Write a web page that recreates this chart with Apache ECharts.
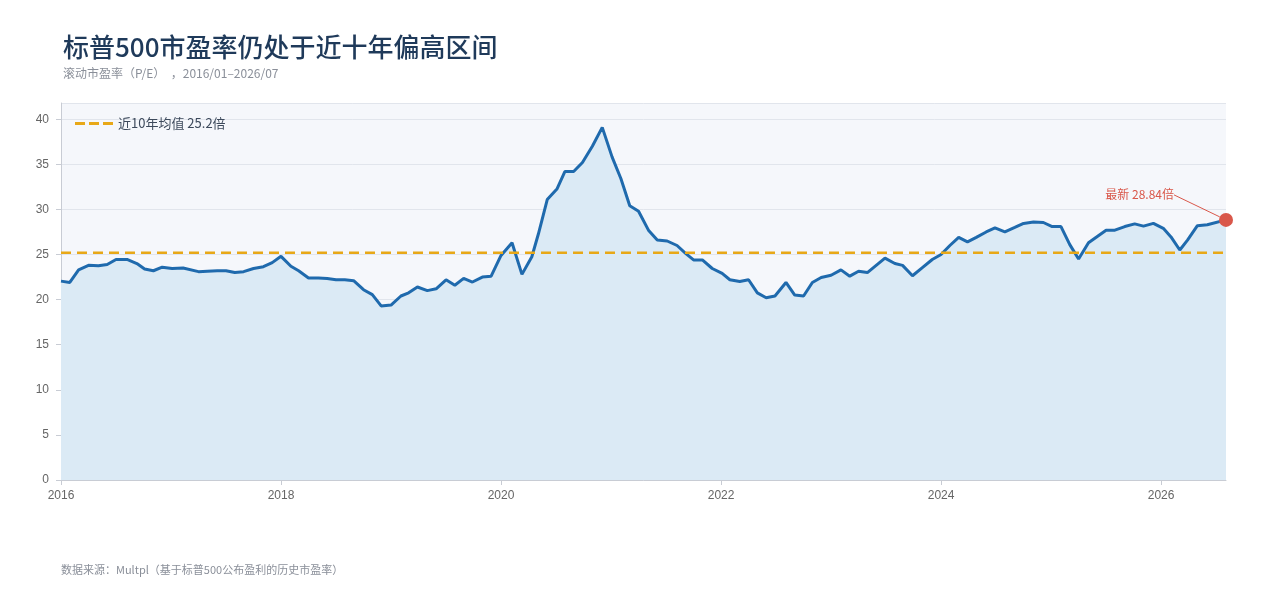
<!DOCTYPE html>
<html>
<head>
<meta charset="utf-8">
<script src="https://cdn.jsdelivr.net/npm/echarts@6/dist/echarts.min.js"></script>
<style>
  html, body { margin: 0; padding: 0; background: #fff; }
  #main { width: 1275px; height: 601px; }
</style>
</head>
<body>
<div id="main"></div>
<script>
// decimal year
var years = [2016.00, 2016.08, 2016.16, 2016.25, 2016.34, 2016.42, 2016.50, 2016.60, 2016.69, 2016.76, 2016.84,
  2016.92, 2017.01, 2017.11, 2017.25, 2017.33, 2017.42, 2017.50, 2017.58, 2017.66, 2017.75, 2017.84, 2017.92,
  2018.00, 2018.09, 2018.16, 2018.25, 2018.34, 2018.42, 2018.50, 2018.58, 2018.66, 2018.75, 2018.83, 2018.91,
  2019.00, 2019.09, 2019.16, 2019.24, 2019.33, 2019.41, 2019.50, 2019.58, 2019.66, 2019.74, 2019.83, 2019.91,
  2020.00, 2020.10, 2020.19, 2020.28, 2020.34, 2020.42, 2020.51, 2020.58, 2020.66, 2020.74, 2020.83, 2020.92,
  2021.01, 2021.09, 2021.17, 2021.25, 2021.34, 2021.42, 2021.51, 2021.60, 2021.68, 2021.75, 2021.83, 2021.92,
  2022.01, 2022.08, 2022.17, 2022.25, 2022.33, 2022.41, 2022.49, 2022.59, 2022.67, 2022.75, 2022.83, 2022.91,
  2023.00, 2023.09, 2023.17, 2023.25, 2023.33, 2023.49, 2023.58, 2023.65, 2023.74, 2023.83, 2023.92, 2024.00,
  2024.08, 2024.16, 2024.24, 2024.32, 2024.41, 2024.49, 2024.58, 2024.67, 2024.75, 2024.84, 2024.93, 2025.01,
  2025.09, 2025.17, 2025.25, 2025.34, 2025.42, 2025.50, 2025.58, 2025.67, 2025.76, 2025.84, 2025.93, 2026.02,
  2026.09, 2026.17, 2026.24, 2026.33, 2026.42, 2026.59];
var pe = [22.05, 21.9, 23.3, 23.8, 23.75, 23.9, 24.45, 24.45, 24.0, 23.4, 23.2,
  23.6, 23.45, 23.5, 23.1, 23.15, 23.2, 23.2, 23.0, 23.1, 23.45, 23.65, 24.1,
  24.8, 23.7, 23.2, 22.4, 22.4, 22.35, 22.2, 22.2, 22.1, 21.1, 20.55, 19.3,
  19.4, 20.4, 20.75, 21.4, 21.0, 21.2, 22.2, 21.6, 22.35, 21.95, 22.5, 22.6,
  24.9, 26.3, 22.8, 24.75, 27.3, 31.1, 32.3, 34.2, 34.2, 35.2, 37.0, 39.1,
  35.8, 33.4, 30.4, 29.8, 27.7, 26.6, 26.5, 26.0, 25.1, 24.4, 24.4, 23.45,
  22.9, 22.2, 22.0, 22.2, 20.75, 20.2, 20.4, 21.9, 20.5, 20.4, 21.9, 22.45,
  22.7, 23.3, 22.6, 23.15, 23.0, 24.6, 24.0, 23.8, 22.65, 23.55, 24.45, 25.0,
  26.0, 26.9, 26.4, 26.9, 27.5, 27.95, 27.5, 28.0, 28.45, 28.6, 28.55, 28.1,
  28.1, 26.1, 24.5, 26.3, 27.0, 27.7, 27.7, 28.1, 28.4, 28.15, 28.45, 27.9,
  26.95, 25.5, 26.6, 28.2, 28.3, 28.84];
var avg10 = 25.2;
var yearTicks = [2016, 2018, 2020, 2022, 2024, 2026];

var peData = years.map(function (y, i) { return [y, pe[i]]; });
var last = peData[peData.length - 1];

var chart = echarts.init(document.getElementById('main'));
chart.setOption({
  backgroundColor: '#ffffff',
  animation: false,
  title: {
    text: '标普500市盈率仍处于近十年偏高区间',
    subtext: '滚动市盈率（P/E）  ，2016/01–2026/07',
    left: 58, top: 29, itemGap: 7,
    textStyle: { color: '#1f3a5a', fontSize: 26, fontWeight: 500, fontFamily: 'Noto Sans CJK SC' },
    subtextStyle: { color: '#8a8f99', fontSize: 12, fontFamily: 'Noto Sans CJK SC' }
  },
  legend: {
    data: [{
      name: '近10年均值 25.2倍',
      icon: 'path://M0,0 L10,0 L10,3 L0,3 Z M14,0 L24,0 L24,3 L14,3 Z M28,0 L38,0 L38,3 L28,3 Z'
    }],
    left: 70, top: 112, itemWidth: 38, itemHeight: 3, itemGap: 10,
    textStyle: { color: '#3d4a5c', fontSize: 13, fontFamily: 'Noto Sans CJK SC' }
  },
  grid: {
    left: 61, right: 49, top: 103, bottom: 121,
    show: true, backgroundColor: '#f5f7fb', borderWidth: 0
  },
  xAxis: {
    type: 'value', min: 2016, max: 2026.59, interval: 2,
    axisLine: { lineStyle: { color: '#c8ccd4' } },
    axisTick: { show: true, lineStyle: { color: '#c8ccd4' } },
    splitLine: { show: false },
    axisLabel: {
      color: '#666', fontSize: 12, margin: 10,
      showMaxLabel: false,
      formatter: function (v) { return yearTicks.indexOf(v) >= 0 ? String(v) : ''; }
    }
  },
  yAxis: {
    type: 'value', min: 0, max: 41.8, interval: 5,
    axisLine: { show: true, lineStyle: { color: '#c8ccd4' } },
    axisLabel: { color: '#666', fontSize: 12, margin: 12, showMaxLabel: false },
    splitLine: { lineStyle: { color: '#e1e5ec' } }
  },
  series: [{
    name: '市盈率',
    type: 'line',
    data: peData,
    symbol: 'none',
    lineStyle: { color: '#1f6aad', width: 3 },
    areaStyle: { color: '#dbeaf5', opacity: 1 },
    z: 3
  }, {
    name: '近10年均值 25.2倍',
    type: 'line',
    data: [[2016, avg10], [2026.59, avg10]],
    symbol: 'none',
    itemStyle: { color: '#e8a817' },
    lineStyle: { color: '#e8a817', width: 2.5, type: [10, 6] },
    z: 4
  }, {
    name: '最新',
    type: 'scatter',
    data: [last],
    symbolSize: 14,
    itemStyle: { color: '#d9574a', opacity: 1 },
    label: {
      show: true, position: 'left',
      formatter: '最新 ' + last[1] + '倍',
      color: '#d9574a', fontSize: 12, fontFamily: 'Noto Sans CJK SC'
    },
    labelLayout: { dx: -40, dy: -25 },
    labelLine: { show: true, lineStyle: { color: '#d9574a', width: 1 } },
    z: 5
  }],
  graphic: [{
    type: 'text', left: 61, top: 564,
    style: { text: '数据来源：Multpl（基于标普500公布盈利的历史市盈率）', fill: '#8a8f99', fontSize: 11, fontFamily: 'Noto Sans CJK SC' }
  }]
});
</script>
</body>
</html>
